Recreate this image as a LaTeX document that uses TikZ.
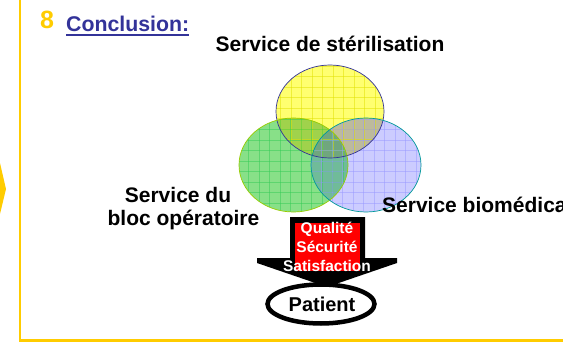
\documentclass[tikz,border=0pt]{standalone}
\usepackage{fontspec}
\setmainfont{Liberation Sans}
\definecolor{gold}{HTML}{FFCC00}
\definecolor{navy}{HTML}{333399}
\definecolor{vyel}{HTML}{FFFF70}
\definecolor{vyelg}{HTML}{E0E000}
\definecolor{vgrn}{HTML}{88E088}
\definecolor{vgrng}{HTML}{33CC55}
\definecolor{vblu}{HTML}{CCCCFF}
\definecolor{vblug}{HTML}{9999FF}
\definecolor{yg}{HTML}{A0D24C}
\definecolor{yb}{HTML}{BDBA9C}
\definecolor{gb}{HTML}{70BB99}
\definecolor{ygb}{HTML}{70A67E}
\definecolor{ygline}{HTML}{99CC00}
\definecolor{bline}{HTML}{009999}
\definecolor{boxred}{HTML}{FF0000}
\begin{document}
\begin{tikzpicture}[x=1pt,y=-1pt,
  lbl/.style={inner sep=0pt, font=\fontsize{21}{24}\selectfont\bfseries},
  smalllbl/.style={inner sep=0pt, text=white, font=\fontsize{15.5}{19}\selectfont\bfseries},
  gridline/.style={line width=0.7pt, opacity=0.5}]
\useasboundingbox (0,0) rectangle (563,345);
\clip (0,0) rectangle (563,345);
% frame
\draw[gold, line width=2.2pt] (20,0) -- (20,340.5) -- (563,340.5);
\fill[gold] (0,163) -- (6,189) -- (0,214) -- cycle;
% title
\node[lbl, anchor=base west, text=gold, font=\fontsize{25}{28}\selectfont\bfseries] (num) at (40,29) {8};
\node[lbl, anchor=base west, text=navy, font=\fontsize{21.3}{24}\selectfont\bfseries] (title) at (66,32) {Conclusion:};
\draw[navy, line width=1.5pt] ([yshift=-3pt]title.base west) -- ([yshift=-3pt]title.base east);
% Venn
\def\ye{(330,111.5) ellipse [x radius=54, y radius=46.5]}
\def\gr{(293.5,165) ellipse [x radius=54.5, y radius=47]}
\def\bl{(366,165) ellipse [x radius=55, y radius=47]}
\fill[vyel] \ye;
\fill[vgrn] \gr;
\fill[vblu] \bl;
\begin{scope}\clip \ye; \fill[yg] \gr; \fill[yb] \bl; \clip \gr; \fill[ygb] \bl; \end{scope}
\begin{scope}\clip \gr; \clip \bl; \fill[gb] (300,0) rectangle (430,260); \clip \ye; \fill[ygb] (300,0) rectangle (430,260); \end{scope}
\begin{scope}\clip \ye;
  \foreach \i in {0,...,12} {\draw[gridline, vyelg] (270+\i*10.5,60) -- (270+\i*10.5,165);}
  \foreach \i in {0,...,10} {\draw[gridline, vyelg] (270,66+\i*10.5) -- (390,66+\i*10.5);}
\end{scope}
\begin{scope}\clip \gr;
  \foreach \i in {0,...,12} {\draw[gridline, vgrng] (238+\i*10.5,110) -- (238+\i*10.5,220);}
  \foreach \i in {0,...,10} {\draw[gridline, vgrng] (230,119+\i*10.5) -- (355,119+\i*10.5);}
\end{scope}
\begin{scope}\clip \bl;
  \foreach \i in {0,...,12} {\draw[gridline, vblug] (311+\i*10.5,110) -- (311+\i*10.5,220);}
  \foreach \i in {0,...,10} {\draw[gridline, vblug] (305,119+\i*10.5) -- (430,119+\i*10.5);}
\end{scope}
\draw[navy, line width=0.7pt] \ye;
\draw[ygline, line width=0.7pt] \gr;
\draw[bline, line width=0.7pt] \bl;
% labels
\node[lbl, anchor=base] (ster) at (330,52) {Service de stérilisation};
\node[lbl, anchor=base] (bloc1) at (178,202) {Service du};
\node[lbl, anchor=base] (bloc2) at (183.5,225) {bloc opératoire};
\node[lbl, anchor=base west] (bio) at (382,212) {Service biomédical};
% arrow
\fill[black] (290,217) -- (365,217) -- (365,258) -- (397,258) -- (397,263) -- (327,287) -- (257,263) -- (257,258) -- (290,258) -- cycle;
\fill[boxred] (295,223) rectangle (360,271);
\node[smalllbl, anchor=base] (q1) at (327,233) {Qualité};
\node[smalllbl, anchor=base] (q2) at (327,252) {Sécurité};
\node[smalllbl, anchor=base] (q3) at (327,271) {Satisfaction};
% patient
\draw[black, fill=white, line width=4.5pt] (321,304) ellipse [x radius=53.5, y radius=19.5];
\node[lbl, anchor=base, font=\fontsize{20}{24}\selectfont\bfseries] (pat) at (322,311) {Patient};
\end{tikzpicture}
\end{document}
